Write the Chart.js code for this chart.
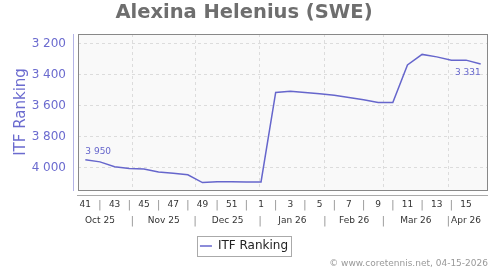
<!DOCTYPE html>
<html>
<head>
<meta charset="utf-8">
<script src="https://cdn.jsdelivr.net/npm/chart.js@4"></script>
<style>
  body { margin: 0; background: #fff; }
</style>
</head>
<body>
<canvas id="myChart" width="500" height="270"></canvas>
<script>
let weeks = ['41', '42', '43', '44', '45', '46', '47', '48', '49', '50', '51', '52',
             '1', '2', '3', '4', '5', '6', '7', '8', '9', '10', '11', '12', '13', '14', '15', '16'];
let ranks = [3950, 3964, 3995, 4007, 4010, 4029, 4038, 4048, 4098, 4092, 4093, 4094,
             4094, 3515, 3507, 3515, 3524, 3533, 3547, 3563, 3580, 3580, 3337, 3269, 3285, 3306, 3306, 3331];
let yTicks = [3200, 3400, 3600, 3800, 4000];
let months = ['Oct 25', 'Nov 25', 'Dec 25', 'Jan 26', 'Feb 26', 'Mar 26', 'Apr 26'];
let monthStarts = ['2025-10-01', '2025-11-01', '2025-12-01', '2026-01-01', '2026-02-01', '2026-03-01', '2026-04-01', '2026-05-01'];
let firstPointDate = '2025-10-09T12:00:00Z';

let lineColor = '#6666cc';
let textBlue = '#6b6bcf';

// month position in "week index" units
function weekIndex(d) {
    return (new Date(d + (d.length == 10 ? 'T00:00:00Z' : '')) - new Date(firstPointDate)) / (7 * 864e5);
}
let monthTicks = [];
months.forEach((m, i) => {
    let a = weekIndex(monthStarts[i]);
    let b = weekIndex(monthStarts[i + 1]);
    if (i > 0) monthTicks.push({ value: a, label: '|', edge: true });
    monthTicks.push({ value: Math.min((a + b) / 2, weeks.length - 2), label: m, edge: false });
});

function fmt(v) {
    return String(v).replace(/\B(?=(\d{3})+(?!\d))/g, ' ');
}

let decor = {
    id: 'decor',
    beforeDraw(chart) {
        let c = chart.ctx, a = chart.chartArea;
        c.save();
        c.fillStyle = '#fff';
        c.fillRect(0, 0, chart.width, chart.height);
        c.fillStyle = '#f9f9f9';
        c.fillRect(a.left, a.top, a.right - a.left, a.bottom - a.top);
        c.restore();
    },
    afterDraw(chart) {
        let c = chart.ctx, a = chart.chartArea;
        c.save();
        c.strokeStyle = '#888';
        c.lineWidth = 1;
        c.strokeRect(a.left + 0.5, a.top + 0.5, a.right - a.left - 1, a.bottom - a.top);
        // y axis line
        c.strokeStyle = '#b4b4e6';
        c.beginPath();
        c.moveTo(a.left - 4.5, a.top);
        c.lineTo(a.left - 4.5, a.bottom + 1);
        c.stroke();
        // x axis line
        c.strokeStyle = '#aaa';
        c.beginPath();
        c.moveTo(a.left - 1, a.bottom + 5.5);
        c.lineTo(a.right, a.bottom + 5.5);
        c.stroke();
        // legend frame
        let hb = chart.legend.legendHitBoxes[0];
        if (hb) {
            c.strokeStyle = '#aaa';
            c.strokeRect(Math.round(hb.left - 3) + 0.5, Math.round(hb.top - 4) + 0.5, Math.round(hb.width + 6), hb.height + 8);
        }
        // first / last value labels
        let pts = chart.getDatasetMeta(0).data;
        let p0 = pts[0], p1 = pts[pts.length - 1];
        c.font = '9px "DejaVu Sans"';
        c.fillStyle = lineColor;
        c.textAlign = 'left';
        c.textBaseline = 'alphabetic';
        c.fillText(fmt(ranks[0]), p0.x, p0.y - 6);
        c.textAlign = 'right';
        c.textBaseline = 'top';
        c.fillText(fmt(ranks[ranks.length - 1]), p1.x, p1.y + 4);
        // credits
        c.font = '9px "DejaVu Sans"';
        c.fillStyle = '#999';
        c.textAlign = 'right';
        c.textBaseline = 'alphabetic';
        c.fillText('\u00a9 www.coretennis.net, 04-15-2026', a.right, 266);
        c.restore();
    }
};

Chart.defaults.font.family = '"DejaVu Sans"';

let myChart = document.getElementById('myChart').getContext('2d');

let chart = new Chart(myChart, {
    type: 'line',
    data: {
        labels: weeks,
        datasets: [{
            label: 'ITF Ranking',
            data: ranks,
            borderColor: lineColor,
            backgroundColor: lineColor,
            borderWidth: 1.5,
            pointRadius: 0,
            tension: 0
        }]
    },
    options: {
        responsive: false,
        animation: false,
        layout: { padding: { left: 0, right: 12, top: 0, bottom: 8 } },
        plugins: {
            title: {
                display: true,
                text: 'Alexina Helenius (SWE)',
                color: '#6e6e6e',
                font: { size: 19.5, weight: 'bold' },
                padding: { top: 1, bottom: 9.6 }
            },
            legend: {
                position: 'bottom',
                labels: {
                    color: '#222',
                    font: { size: 12 },
                    usePointStyle: true,
                    pointStyle: 'line',
                    pointStyleWidth: 12,
                    padding: 10
                }
            },
            tooltip: { enabled: false }
        },
        scales: {
            x: {
                type: 'category',
                offset: true,
                weight: 0,
                grid: { display: false, drawTicks: false },
                border: { display: false },
                ticks: {
                    autoSkip: false,
                    maxRotation: 0,
                    padding: 9,
                    font: ctx => ({ size: ctx.index % 2 ? 11 : 9 }),
                    color: ctx => ctx.index % 2 ? '#999' : '#333',
                    callback: (v, i) => i % 2 == 0 ? weeks[i] : (i == weeks.length - 1 ? '' : '|')
                },
                afterFit: s => { s.height = 22; }
            },
            x2: {
                type: 'linear',
                position: 'bottom',
                weight: 1,
                min: -0.5,
                max: weeks.length - 0.5,
                afterBuildTicks: s => { s.ticks = monthTicks.map(t => ({ value: t.value })); },
                grid: {
                    drawTicks: false,
                    color: ctx => monthTicks[ctx.index] && monthTicks[ctx.index].edge ? '#dcdcdc' : 'rgba(0,0,0,0)'
                },
                border: { display: false, dash: [3, 3] },
                ticks: {
                    autoSkip: false,
                    maxRotation: 0,
                    padding: 3,
                    font: ctx => ({ size: monthTicks[ctx.index] && monthTicks[ctx.index].edge ? 11 : 9 }),
                    color: ctx => monthTicks[ctx.index] && monthTicks[ctx.index].edge ? '#999' : '#333',
                    callback: (v, i) => monthTicks[i] ? monthTicks[i].label : ''
                },
                afterFit: s => { s.height = 18; }
            },
            y: {
                reverse: true,
                min: 3137,
                max: 4146,
                afterBuildTicks: s => { s.ticks = yTicks.map(v => ({ value: v })); },
                grid: { color: '#dcdcdc', drawTicks: false },
                border: { display: false, dash: [3, 3] },
                ticks: {
                    color: textBlue,
                    font: { size: 12 },
                    padding: 12,
                    callback: v => fmt(v)
                },
                title: {
                    display: true,
                    text: 'ITF Ranking',
                    color: textBlue,
                    font: { size: 15 },
                    padding: { top: 12, bottom: 0 }
                },
                afterFit: s => { s.width = 78; }
            }
        }
    },
    plugins: [decor]
});
</script>
</body>
</html>
